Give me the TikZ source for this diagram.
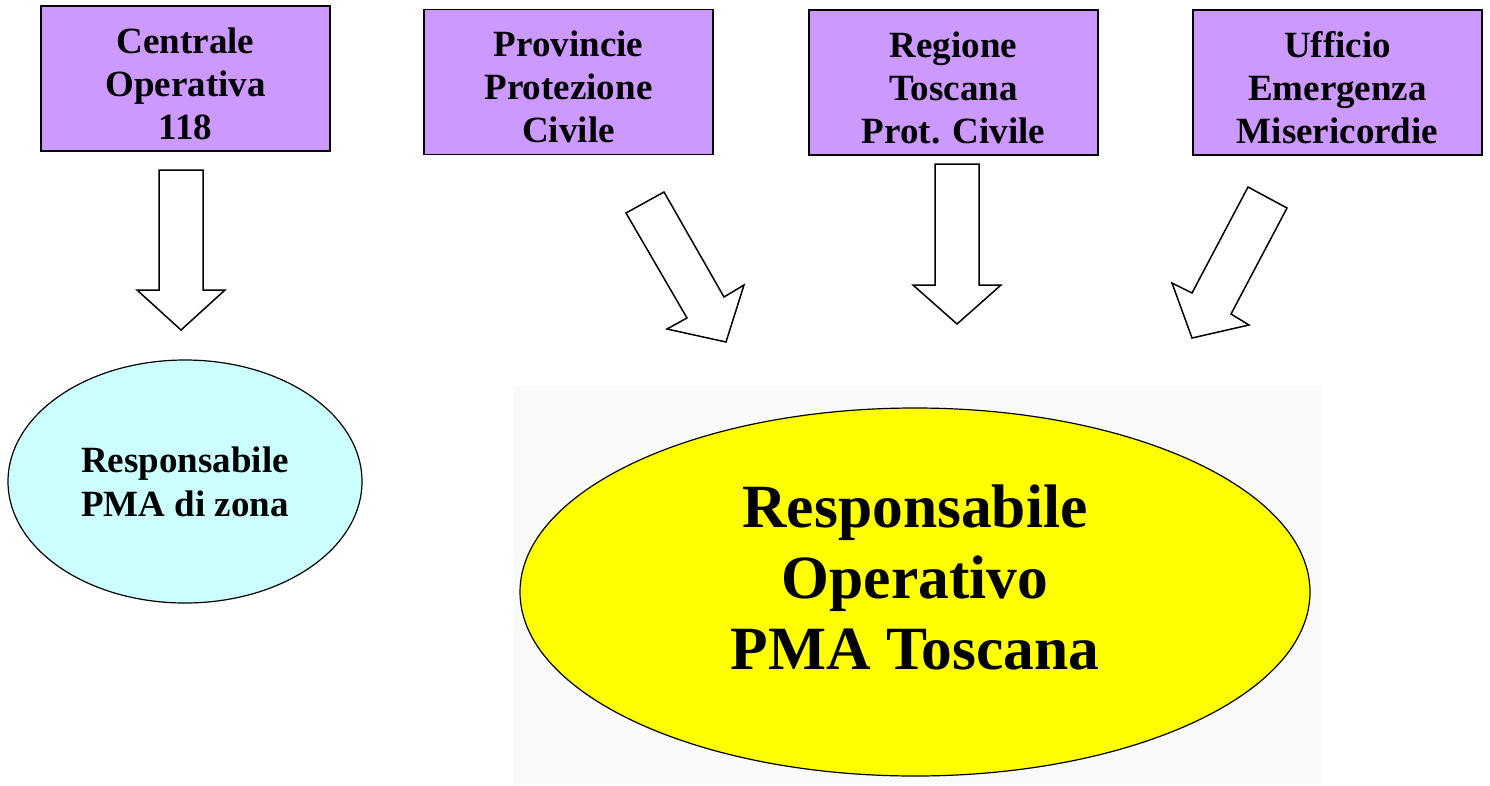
\documentclass[tikz,border=0pt]{standalone}
\usepackage{fontspec}
\setmainfont{Liberation Serif}
\usetikzlibrary{shapes.geometric}
\definecolor{boxpurple}{RGB}{204,153,255}
\definecolor{ellcyan}{RGB}{204,255,255}
\definecolor{ellyellow}{RGB}{255,255,0}
\tikzset{
  srcbox/.style={draw=black, line width=1.6pt, fill=boxpurple, rectangle,
    minimum width=289pt, minimum height=145pt, inner sep=0pt},
  boxtext/.style={inner sep=0pt, align=center,
    font=\fontsize{37}{43}\selectfont\bfseries},
  smallell/.style={draw=black, line width=1.2pt, fill=ellcyan, ellipse,
    minimum width=354pt, minimum height=243pt, inner sep=0pt, align=center,
    font=\fontsize{37}{44}\selectfont\bfseries},
  bigell/.style={draw=black, line width=1.2pt, fill=ellyellow, ellipse,
    minimum width=790pt, minimum height=368pt, inner sep=0pt},
  bigtext/.style={inner sep=0pt, align=center,
    font=\fontsize{61.5}{71}\selectfont\bfseries},
  blockarrow/.style={draw=black, line width=1.5pt, fill=white, line join=miter}
}
\begin{document}
\begin{tikzpicture}[x=1pt, y=-1pt]
\useasboundingbox (0,0) rectangle (1490,785);
% faint backdrop behind the big ellipse
\fill[black!2] (514,386) rectangle (1321,785);

\node[srcbox] (c118) at (185.5,78.5) {};
\node[srcbox] (prov) at (568.5,82) {};
\node[srcbox] (reg)  at (953.5,82.5) {};
\node[srcbox] (uff)  at (1337.5,82.5) {};
\node[boxtext] (c118t) at ([yshift=-5pt]c118.center) {Centrale\\Operativa\\118};
\node[boxtext] (provt) at ([yshift=-5pt]prov.center) {Provincie\\Protezione\\Civile};
\node[boxtext] (regt)  at ([yshift=-5pt]reg.center) {Regione\\Toscana\\Prot. Civile};
\node[boxtext] (ufft)  at ([yshift=-5pt]uff.center) {Ufficio\\Emergenza\\Misericordie};

\node[smallell] (zona) at (185,481.5) {Responsabile\\PMA di zona};
\node[bigell] (tosc) at (915,592) {};
\node[bigtext] (tosct) at ([yshift=15pt]tosc.center) {Responsabile\\Operativo\\PMA Toscana};

% block arrows
\draw[blockarrow] (159,170) -- (203,170) -- (203,290) -- (225,290) -- (181,330) -- (137,290) -- (159,290) -- cycle;
\draw[blockarrow] (626,213) -- (664,192) -- (724,297) -- (744,285) -- (726,342) -- (667,329) -- (687,318) -- cycle;
\draw[blockarrow] (935,164) -- (979,164) -- (979,285) -- (1001,285) -- (957,324) -- (913,285) -- (935,285) -- cycle;
\draw[blockarrow] (1248,187) -- (1287,208) -- (1231,314) -- (1249,325) -- (1192,338) -- (1172,283) -- (1192,293) -- cycle;
\end{tikzpicture}
\end{document}
